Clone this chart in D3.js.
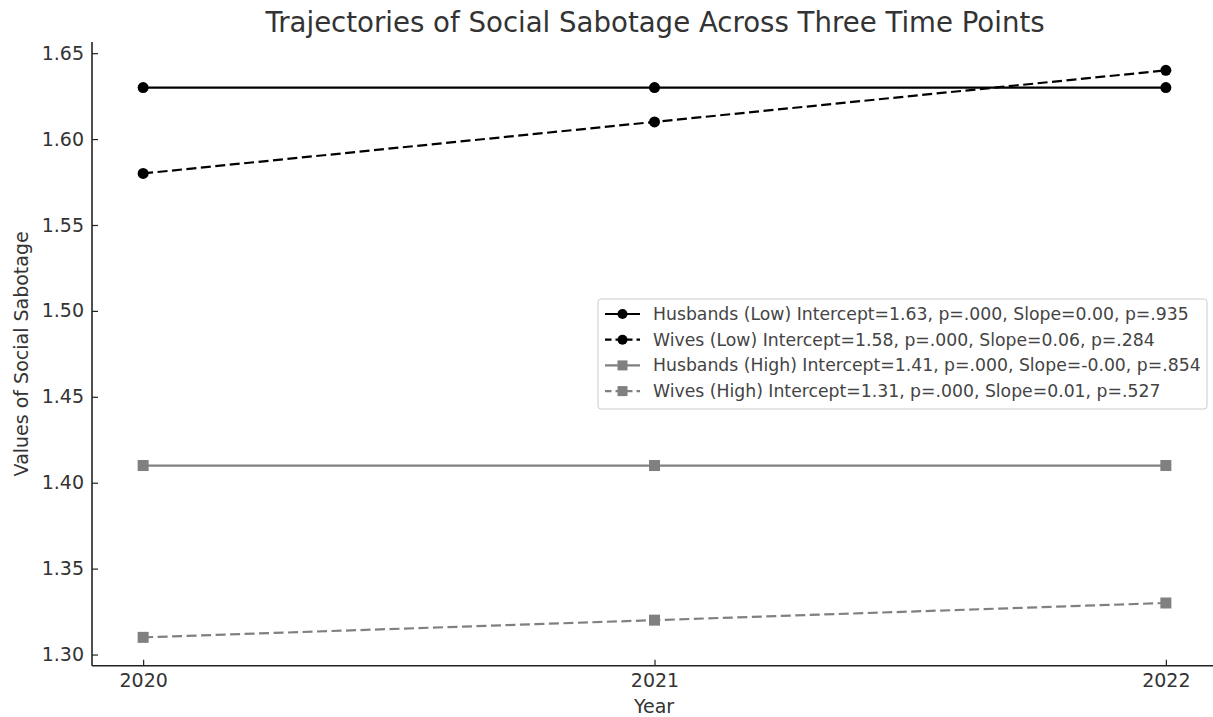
<!DOCTYPE html>
<html><head><meta charset="utf-8">
<script src="https://cdn.jsdelivr.net/npm/d3@7"></script>
<style>body{margin:0;background:#fff}svg{display:block;font-family:"DejaVu Sans",sans-serif}</style>
</head><body><svg id="c" width="1213" height="717"></svg>
<script>
const years = [2020, 2021, 2022];
const husbandsLow = [1.63, 1.63, 1.63];
const wivesLow = [1.58, 1.61, 1.64];
const husbandsHigh = [1.41, 1.41, 1.41];
const wivesHigh = [1.31, 1.32, 1.33];
const seriesNames = [
  "Husbands (Low) Intercept=1.63, p=.000, Slope=0.00, p=.935",
  "Wives (Low) Intercept=1.58, p=.000, Slope=0.06, p=.284",
  "Husbands (High) Intercept=1.41, p=.000, Slope=-0.00, p=.854",
  "Wives (High) Intercept=1.31, p=.000, Slope=0.01, p=.527"
];
const yTicks = [1.30, 1.35, 1.40, 1.45, 1.50, 1.55, 1.60, 1.65];

const series = [
  {name: seriesNames[0], values: husbandsLow, color: "#000", dash: null, marker: "circle"},
  {name: seriesNames[1], values: wivesLow, color: "#000", dash: "10,4.5", marker: "circle"},
  {name: seriesNames[2], values: husbandsHigh, color: "#808080", dash: null, marker: "square"},
  {name: seriesNames[3], values: wivesHigh, color: "#808080", dash: "10,4.5", marker: "square"}
];

const svg = d3.select("#c");
const L = 92, R = 1217, T = 42, B = 665.7;
const x = d3.scaleLinear().domain([2019.9, 2022.1]).range([L, R]);
const y = d3.scaleLinear().domain([1.2935, 1.6565]).range([B, T]);
const textColor = "#333";

// axes
const yAxis = svg.append("g").attr("transform", `translate(${L},0)`)
  .call(d3.axisLeft(y).tickValues(yTicks).tickFormat(d3.format(".2f")).tickSizeInner(-6).tickSizeOuter(0).tickPadding(8));
const xAxis = svg.append("g").attr("transform", `translate(0,${B})`)
  .call(d3.axisBottom(x).tickValues(years).tickFormat(d3.format("d")).tickSizeInner(-6).tickSizeOuter(0).tickPadding(8));
[yAxis, xAxis].forEach(g => {
  g.selectAll(".domain").attr("stroke", "#222").attr("stroke-width", 1.6);
  g.selectAll(".tick line").attr("stroke", "#222").attr("stroke-width", 1.2);
  g.selectAll(".tick text").attr("fill", textColor).style("font-size", "19px").style("font-family", "DejaVu Sans");
});
yAxis.select(".domain").attr("d", `M0,${B}V${T}`);
xAxis.select(".domain").attr("d", `M${L},0H1213`);

// lines
const line = d3.line().x((d, i) => x(years[i])).y(d => y(d));
series.forEach(s => {
  svg.append("path").datum(s.values).attr("d", line)
    .attr("fill", "none").attr("stroke", s.color).attr("stroke-width", 2.2)
    .attr("stroke-dasharray", s.dash);
  s.values.forEach((v, i) => {
    if (s.marker === "circle") {
      svg.append("circle").attr("cx", x(years[i])).attr("cy", y(v)).attr("r", 5.5).attr("fill", s.color);
    } else {
      svg.append("rect").attr("x", x(years[i]) - 5.5).attr("y", y(v) - 5.5)
        .attr("width", 11).attr("height", 11).attr("fill", s.color);
    }
  });
});

// title & labels
svg.append("text").attr("x", 655).attr("y", 32).attr("text-anchor", "middle")
  .attr("fill", textColor).style("font-size", "27.6px").text("Trajectories of Social Sabotage Across Three Time Points");
svg.append("text").attr("x", 654).attr("y", 713).attr("text-anchor", "middle")
  .attr("fill", textColor).style("font-size", "19px").text("Year");
svg.append("text").attr("transform", `translate(28,${(T + B) / 2}) rotate(-90)`).attr("text-anchor", "middle")
  .attr("fill", textColor).style("font-size", "19px").text("Values of Social Sabotage");

// legend
const lg = svg.append("g").attr("transform", "translate(598,299)");
lg.append("rect").attr("width", 609).attr("height", 110).attr("rx", 3)
  .attr("fill", "#fff").attr("fill-opacity", 0.8).attr("stroke", "#ccc").attr("stroke-width", 1);
series.forEach((s, i) => {
  const cy = 15 + i * 25.7;
  lg.append("line").attr("x1", 7).attr("x2", 42).attr("y1", cy).attr("y2", cy)
    .attr("stroke", s.color).attr("stroke-width", 2.2).attr("stroke-dasharray", s.dash ? "6.5,4" : null);
  if (s.marker === "circle") lg.append("circle").attr("cx", 24.5).attr("cy", cy).attr("r", 5).attr("fill", s.color);
  else lg.append("rect").attr("x", 19.5).attr("y", cy - 5).attr("width", 10).attr("height", 10).attr("fill", s.color);
  lg.append("text").attr("x", 55).attr("y", cy + 6).attr("fill", "#444").style("font-size", "17.25px").text(s.name);
});
</script></body></html>
